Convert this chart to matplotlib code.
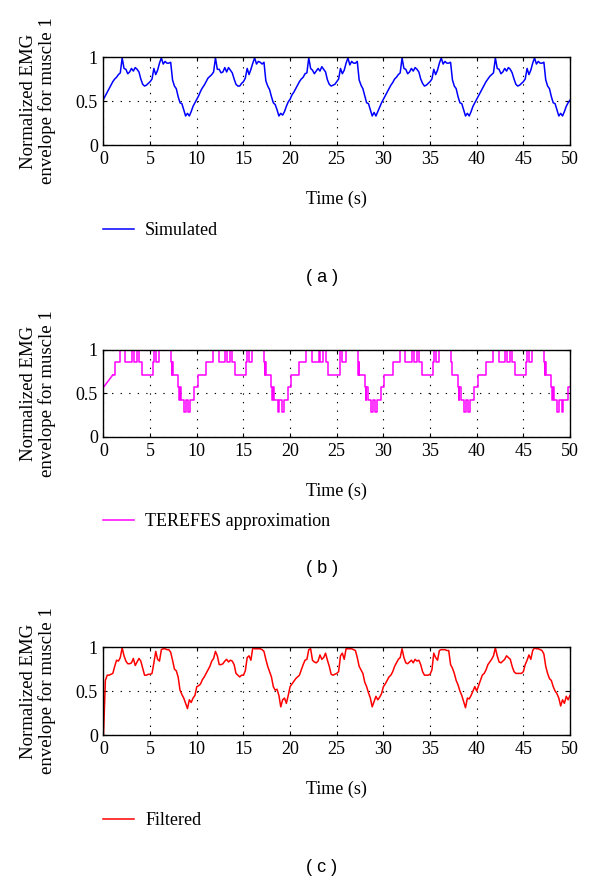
import numpy as np
import matplotlib
matplotlib.use("Agg")
from matplotlib import pyplot as plt

plt.rcParams['font.family'] = ['Liberation Serif', 'DejaVu Serif']

# Time axis for the sampled series (0.2 s step, 0..50 s)
t = np.linspace(0, 50, 251)

# Simulated EMG envelope
simulated = [
    0.52, 0.56, 0.60, 0.64, 0.68, 0.72, 0.75, 0.77, 0.80, 0.82,
    0.99, 0.87, 0.86, 0.81, 0.83, 0.87, 0.84, 0.88, 0.86, 0.83,
    0.75, 0.69, 0.67, 0.68, 0.70, 0.72, 0.75, 0.87, 0.80, 0.85,
    0.93, 0.99, 0.92, 0.95, 0.93, 0.93, 0.94, 0.74, 0.67, 0.64,
    0.55, 0.48, 0.47, 0.40, 0.33, 0.36, 0.33, 0.38, 0.44, 0.48,
    0.52, 0.56, 0.61, 0.65, 0.68, 0.72, 0.76, 0.78, 0.80, 0.83,
    0.99, 0.86, 0.86, 0.82, 0.83, 0.88, 0.83, 0.88, 0.85, 0.82,
    0.75, 0.69, 0.67, 0.67, 0.70, 0.72, 0.76, 0.87, 0.80, 0.86,
    0.93, 0.99, 0.92, 0.95, 0.94, 0.92, 0.94, 0.73, 0.67, 0.63,
    0.55, 0.48, 0.46, 0.40, 0.33, 0.36, 0.34, 0.38, 0.44, 0.49,
    0.52, 0.57, 0.60, 0.64, 0.68, 0.72, 0.75, 0.77, 0.81, 0.82,
    0.99, 0.87, 0.85, 0.81, 0.84, 0.87, 0.84, 0.89, 0.86, 0.83,
    0.74, 0.69, 0.67, 0.68, 0.69, 0.72, 0.75, 0.87, 0.81, 0.85,
    0.93, 0.99, 0.91, 0.95, 0.93, 0.93, 0.95, 0.74, 0.68, 0.64,
    0.56, 0.48, 0.47, 0.40, 0.33, 0.37, 0.33, 0.38, 0.43, 0.48,
    0.52, 0.56, 0.60, 0.64, 0.68, 0.71, 0.75, 0.77, 0.80, 0.82,
    0.99, 0.87, 0.86, 0.81, 0.83, 0.87, 0.84, 0.88, 0.86, 0.83,
    0.75, 0.70, 0.67, 0.68, 0.70, 0.72, 0.75, 0.86, 0.80, 0.85,
    0.93, 0.99, 0.92, 0.95, 0.93, 0.93, 0.94, 0.74, 0.67, 0.64,
    0.55, 0.48, 0.47, 0.40, 0.33, 0.36, 0.33, 0.38, 0.44, 0.48,
    0.52, 0.56, 0.60, 0.64, 0.68, 0.72, 0.75, 0.78, 0.80, 0.82,
    0.99, 0.87, 0.86, 0.81, 0.83, 0.87, 0.84, 0.88, 0.86, 0.82,
    0.75, 0.69, 0.67, 0.68, 0.70, 0.72, 0.75, 0.87, 0.80, 0.85,
    0.93, 0.99, 0.92, 0.95, 0.93, 0.93, 0.94, 0.74, 0.67, 0.64,
    0.55, 0.48, 0.47, 0.40, 0.33, 0.36, 0.33, 0.38, 0.44, 0.48,
    0.51,
]

# TEREFES approximation, panel (b): switching times and levels
terefes_time = [
    0.0, 1.0, 1.2, 1.8, 2.35, 3.05, 3.25, 3.55, 3.8, 4.1, 5.3, 5.4, 5.6, 5.95,
    7.25, 7.3, 7.35, 7.4, 8.0, 8.1, 8.15, 8.3, 8.65, 8.85, 9.1, 9.3, 9.75,
    10.1, 11.0, 11.75, 12.35, 13.05, 13.25, 13.55, 13.8, 14.1, 15.3, 15.4, 15.6, 15.95,
    17.25, 17.3, 17.35, 17.4, 18.0, 18.1, 18.15, 18.3, 18.65, 18.85, 19.1, 19.3, 19.75,
    20.1, 21.0, 21.75, 22.35, 23.05, 23.25, 23.55, 23.8, 24.1, 25.3, 25.4, 25.6, 25.95,
    27.25, 27.3, 27.35, 27.4, 28.0, 28.1, 28.15, 28.3, 28.65, 28.85, 29.1, 29.3, 29.75,
    30.1, 31.0, 31.75, 32.35, 33.05, 33.25, 33.55, 33.8, 34.1, 35.3, 35.4, 35.6, 35.95,
    37.25, 37.3, 37.35, 37.4, 38.0, 38.1, 38.15, 38.3, 38.65, 38.85, 39.1, 39.3, 39.75,
    40.1, 41.0, 41.75, 42.35, 43.05, 43.25, 43.55, 43.8, 44.1, 45.3, 45.4, 45.6, 45.95,
    47.25, 47.3, 47.35, 47.4, 48.0, 48.1, 48.15, 48.3, 48.65, 48.85, 49.1, 49.3, 49.75,
    50.0,
]
terefes_level = [
    0.571, 0.714, 0.857, 1.0, 0.857, 1.0, 0.857, 1.0, 0.857, 0.714, 0.857, 1.0, 0.857, 1.0,
    0.857, 0.714, 0.857, 0.714, 0.571, 0.429, 0.571, 0.429, 0.286, 0.429, 0.286, 0.429, 0.571,
    0.714, 0.857, 1.0, 0.857, 1.0, 0.857, 1.0, 0.857, 0.714, 0.857, 1.0, 0.857, 1.0,
    0.857, 0.714, 0.857, 0.714, 0.571, 0.429, 0.571, 0.429, 0.286, 0.429, 0.286, 0.429, 0.571,
    0.714, 0.857, 1.0, 0.857, 1.0, 0.857, 1.0, 0.857, 0.714, 0.857, 1.0, 0.857, 1.0,
    0.857, 0.714, 0.857, 0.714, 0.571, 0.429, 0.571, 0.429, 0.286, 0.429, 0.286, 0.429, 0.571,
    0.714, 0.857, 1.0, 0.857, 1.0, 0.857, 1.0, 0.857, 0.714, 0.857, 1.0, 0.857, 1.0,
    0.857, 0.714, 0.857, 0.714, 0.571, 0.429, 0.571, 0.429, 0.286, 0.429, 0.286, 0.429, 0.571,
    0.714, 0.857, 1.0, 0.857, 1.0, 0.857, 1.0, 0.857, 0.714, 0.857, 1.0, 0.857, 1.0,
    0.857, 0.714, 0.857, 0.714, 0.571, 0.429, 0.571, 0.429, 0.286, 0.429, 0.286, 0.429, 0.571,
    0.571,
]

# Filtered envelope, panel (c)
filtered = [
    0.00, 0.62, 0.68, 0.68, 0.69, 0.70, 0.78, 0.85, 0.84, 0.88,
    0.99, 0.90, 0.84, 0.81, 0.81, 0.82, 0.87, 0.79, 0.83, 0.87,
    0.84, 0.76, 0.68, 0.68, 0.69, 0.69, 0.70, 0.82, 0.95, 0.86,
    0.84, 0.97, 0.98, 0.98, 0.97, 0.97, 0.94, 0.85, 0.75, 0.73,
    0.66, 0.51, 0.46, 0.42, 0.36, 0.30, 0.40, 0.37, 0.42, 0.45,
    0.55, 0.56, 0.58, 0.63, 0.66, 0.70, 0.74, 0.78, 0.84, 0.87,
    0.95, 0.90, 0.80, 0.80, 0.81, 0.84, 0.86, 0.83, 0.85, 0.84,
    0.80, 0.70, 0.68, 0.66, 0.68, 0.68, 0.73, 0.88, 0.90, 0.85,
    0.99, 0.98, 0.98, 0.98, 0.98, 0.97, 0.95, 0.86, 0.78, 0.72,
    0.66, 0.55, 0.51, 0.52, 0.45, 0.32, 0.40, 0.42, 0.36, 0.45,
    0.55, 0.58, 0.61, 0.64, 0.66, 0.68, 0.74, 0.80, 0.85, 0.86,
    0.97, 0.98, 0.85, 0.83, 0.82, 0.84, 0.91, 0.86, 0.88, 0.93,
    0.85, 0.78, 0.69, 0.68, 0.69, 0.70, 0.72, 0.90, 0.93, 0.86,
    0.98, 0.98, 0.98, 0.98, 0.97, 0.96, 0.88, 0.78, 0.74, 0.70,
    0.60, 0.55, 0.48, 0.42, 0.32, 0.38, 0.44, 0.40, 0.43, 0.47,
    0.55, 0.58, 0.62, 0.66, 0.68, 0.72, 0.78, 0.82, 0.86, 0.88,
    0.98, 0.88, 0.82, 0.81, 0.83, 0.85, 0.82, 0.86, 0.84, 0.85,
    0.80, 0.72, 0.68, 0.68, 0.68, 0.69, 0.74, 0.93, 0.88, 0.85,
    0.96, 0.97, 0.97, 0.97, 0.96, 0.96, 0.80, 0.76, 0.70, 0.62,
    0.57, 0.50, 0.45, 0.38, 0.31, 0.42, 0.41, 0.45, 0.50, 0.55,
    0.50, 0.56, 0.62, 0.68, 0.70, 0.74, 0.80, 0.83, 0.86, 0.90,
    0.99, 0.90, 0.83, 0.82, 0.84, 0.86, 0.90, 0.88, 0.86, 0.78,
    0.72, 0.70, 0.70, 0.70, 0.70, 0.72, 0.80, 0.85, 0.91, 0.86,
    0.96, 0.99, 0.98, 0.98, 0.97, 0.96, 0.92, 0.78, 0.70, 0.64,
    0.62, 0.55, 0.50, 0.47, 0.42, 0.33, 0.40, 0.36, 0.44, 0.40,
    0.45,
]

xticks = list(range(0, 51, 5))
yticks = [0, 0.5, 1]
yticklabels = ["0", "0.5", "1"]

fig = plt.figure(figsize=(6, 8.81), dpi=100)

# axes boxes in figure fractions
boxes = [
    [0.1725, 0.8354, 0.7775, 0.0999],
    [0.1725, 0.5040, 0.7775, 0.0988],
    [0.1725, 0.1657, 0.7775, 0.0999],
]
names = ["Simulated", "TEREFES approximation", "Filtered"]
colors = ["#0000ff", "#ff00ff", "#ff0000"]
letters = ["( a )", "( b )", "( c )"]

for i, box in enumerate(boxes):
    ax = fig.add_axes(box)
    if i == 0:
        ax.plot(t, simulated, color=colors[i], lw=1.1, label=names[i])
    elif i == 1:
        # first sample ramps, the rest is held constant
        ax.plot(terefes_time[:2], terefes_level[:2], color=colors[i], lw=1.1)
        ax.step(terefes_time[1:], terefes_level[1:], where='post',
                color=colors[i], lw=1.1, label=names[i])
    else:
        ax.plot(t, filtered, color=colors[i], lw=1.1, label=names[i])

    ax.set_xlim(0, 50)
    ax.set_ylim(0, 1)
    ax.set_xticks(xticks)
    ax.set_yticks(yticks)
    ax.set_yticklabels(yticklabels)
    ax.tick_params(direction='in', top=True, right=True, length=3,
                   labelsize=13, pad=4)
    ax.grid(True, color='black', linestyle=(0, (1.2, 6.5)), lw=0.8)
    for s in ax.spines.values():
        s.set_linewidth(1.0)

    ax.set_xlabel('Time (s)', fontsize=13, va='center')
    ax.xaxis.set_label_coords(0.5, -0.62)
    ax.set_ylabel('Normalized EMG\nenvelope for muscle 1', fontsize=13.5,
                  va='center', ha='center', linespacing=1.1)
    ax.yaxis.set_label_coords(-0.14, 0.5)

    ax.legend(loc='center left', bbox_to_anchor=(0, -0.97), frameon=False,
              borderpad=0, borderaxespad=0, handlelength=1.7,
              handletextpad=0.6, fontsize=13)

    ax.text(0.468, -1.51, letters[i], transform=ax.transAxes, ha='center',
            va='center', fontsize=13, family=['Liberation Sans', 'DejaVu Sans'])

plt.savefig('out.png', dpi=100)
